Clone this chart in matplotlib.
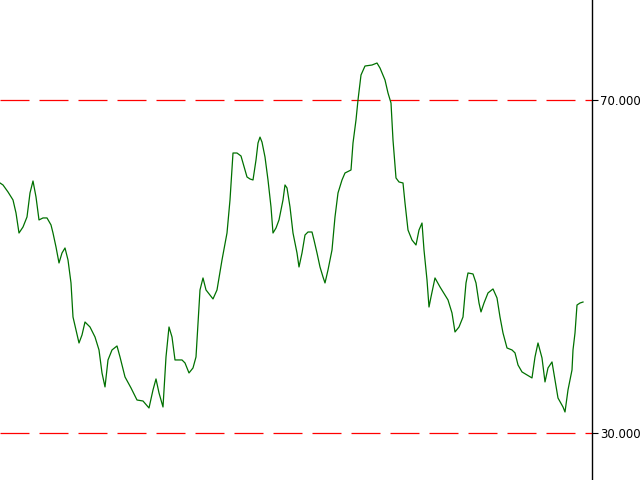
import matplotlib
matplotlib.use("Agg")
import matplotlib.pyplot as plt

# bar index (time) and RSI values
bars = [0, 3, 8, 13, 16, 19, 23, 27, 30, 33, 36, 39, 43, 47, 51, 53, 56, 59, 62, 65,
        68, 71, 73, 79, 82, 85, 90, 95, 99, 102, 105, 108, 112, 117, 120, 125, 131, 137, 143, 149,
        153, 156, 159, 163, 166, 169, 172, 175, 182, 185, 189, 193, 196, 200, 203, 206, 213, 217, 222, 227,
        230, 233, 237, 241, 243, 247, 250, 253, 256, 258, 260, 262, 265, 268, 271, 273, 276, 279, 283, 285,
        287, 290, 293, 297, 299, 302, 305, 308, 312, 314, 317, 320, 323, 325, 328, 332, 335, 338, 342, 345,
        351, 353, 356, 358, 361, 365, 372, 377, 380, 385, 388, 391, 393, 396, 399, 403, 405, 408, 412, 416,
        419, 422, 424, 427, 429, 431, 435, 440, 445, 448, 452, 455, 459, 463, 466, 468, 473, 476, 479, 481,
        484, 488, 493, 497, 500, 503, 507, 512, 515, 518, 522, 527, 532, 535, 538, 542, 545, 548, 552, 555,
        558, 563, 565, 568, 572, 573, 575, 577, 580, 583]
rsi = [60.03, 59.79, 58.95, 57.99, 56.43, 54.02, 54.74, 55.95, 58.83, 60.27, 58.35, 55.59, 55.83, 55.83, 54.99, 54.02, 52.34, 50.42, 51.62, 52.22,
       50.78, 48.02, 43.93, 40.81, 41.77, 43.33, 42.73, 41.53, 39.97, 37.21, 35.53, 38.77, 39.97, 40.45, 39.13, 36.73, 35.41, 33.96, 33.84, 33.00,
       35.17, 36.49, 34.81, 33.12, 39.13, 42.73, 41.53, 38.77, 38.77, 38.41, 37.21, 37.81, 39.13, 47.18, 48.62, 47.18, 46.10, 47.18, 50.78, 54.02,
       57.99, 63.63, 63.63, 63.27, 62.43, 60.75, 60.51, 60.39, 62.79, 64.83, 65.54, 64.94, 63.15, 60.39, 57.15, 54.02, 54.62, 55.59, 57.99, 59.79,
       59.43, 57.15, 54.02, 51.62, 49.94, 51.62, 53.78, 54.14, 54.14, 53.18, 51.62, 49.94, 48.74, 48.02, 49.58, 51.98, 55.95, 58.83, 60.39, 61.23,
       61.59, 64.83, 67.60, 70.00, 73.00, 74.08, 74.20, 74.44, 73.84, 72.40, 70.84, 69.64, 65.19, 60.63, 60.15, 60.03, 57.63, 54.38, 53.18, 52.58,
       54.38, 55.22, 51.98, 48.38, 45.13, 46.34, 48.62, 47.54, 46.58, 45.98, 44.41, 42.13, 42.73, 43.93, 48.02, 49.22, 49.10, 48.02, 45.61, 44.54,
       45.61, 46.82, 47.30, 46.22, 43.93, 42.01, 40.21, 39.97, 39.62, 38.17, 37.33, 36.97, 36.61, 39.13, 40.81, 39.01, 36.13, 37.81, 38.53, 36.37,
       34.20, 33.12, 32.52, 35.17, 37.57, 39.97, 42.01, 45.37, 45.61, 45.73]
levels = [70, 30]
level_labels = ["70.0000", "30.0000"]

fig = plt.figure(figsize=(6.4, 4.8), dpi=100)
ax = fig.add_axes([0, 0, 592 / 640, 1])

for lv in levels:
    ax.axhline(lv, color="#ff0000", lw=0.9, dashes=(29 * 0.72 / 0.9, 10 * 0.72 / 0.9))
ax.plot(bars, rsi, color="#007000", lw=0.9)

ax.set_xlim(0, 592)
ax.set_ylim(24.35, 82.01)
for s in ["top", "left", "bottom"]:
    ax.spines[s].set_visible(False)
ax.spines["right"].set_color("black")
ax.spines["right"].set_linewidth(1)
ax.set_xticks([])
ax.yaxis.tick_right()
ax.set_yticks(levels)
ax.set_yticklabels(level_labels)
ax.tick_params(axis="y", direction="out", length=4, width=0.8, pad=2, labelsize=8.5, colors="black")

fig.savefig("out.png", dpi=100)
